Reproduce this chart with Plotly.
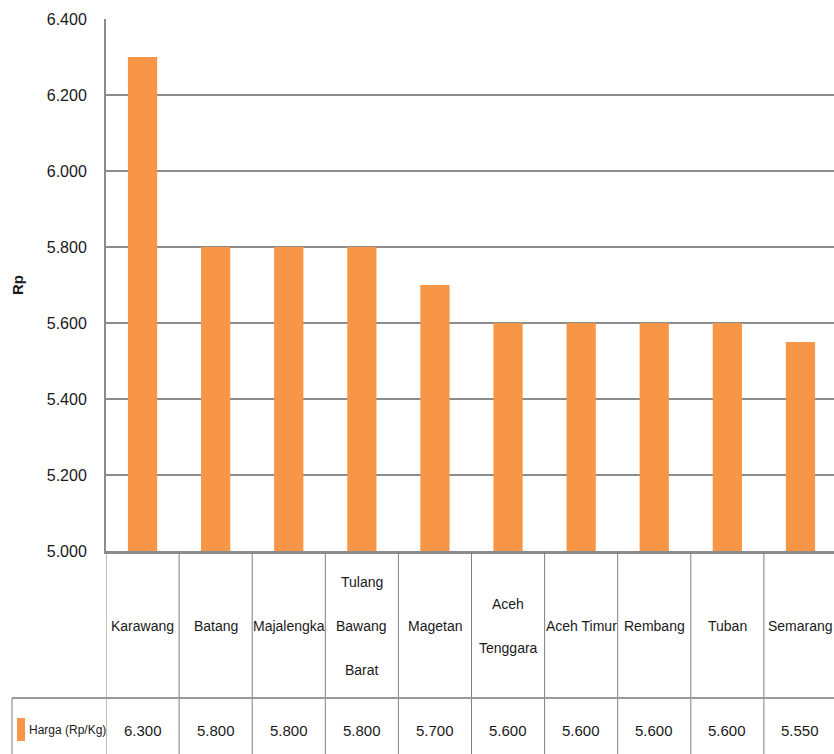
import plotly.graph_objects as go

# Harga per kabupaten (Rp/Kg)
series_name = "Harga (Rp/Kg)"
regions = ["Karawang", "Batang", "Majalengka", "Tulang\nBawang\nBarat", "Magetan",
           "Aceh\nTenggara", "Aceh Timur", "Rembang", "Tuban", "Semarang"]
prices = [6300, 5800, 5800, 5800, 5700, 5600, 5600, 5600, 5600, 5550]
y_ticks = [5000, 5200, 5400, 5600, 5800, 6000, 6200, 6400]
y_title = "Rp"

BAR = "#F79646"
GRID = "#8c8c8c"
TXT = "#1a1a1a"
FONT = "Liberation Sans, Arial, sans-serif"

W, H = 834, 754
M_L, M_T, M_B = 106, 19, 203
PLOT_H = H - M_T - M_B


def py(px):
    """pixel row -> paper y"""
    return (H - M_B - px) / PLOT_H


def px_x(px):
    """pixel column -> paper x"""
    return (px - M_L) / (W - M_L)


def fmt(v):
    return f"{v:,}".replace(",", ".")


idx = list(range(len(regions)))

fig = go.Figure(go.Bar(x=idx, y=prices, marker=dict(color=BAR, line=dict(width=0)),
                       name=series_name, showlegend=False))

shapes = []
annotations = []

row_top = H - M_B
row_mid = 698
row_bot = H

# vertical table lines on category boundaries
for i in range(len(regions) + 1):
    shapes.append(dict(type="line", xref="x", yref="paper", x0=i - 0.5, x1=i - 0.5,
                       y0=py(row_top), y1=py(row_bot + 5),
                       line=dict(color="#808080", width=1)))
# horizontal separator between label row and value row
shapes.append(dict(type="line", xref="paper", yref="paper", x0=px_x(12), x1=1.01,
                   y0=py(row_mid), y1=py(row_mid), line=dict(color="#9a9a9a", width=2)))
# left border of the value row
shapes.append(dict(type="line", xref="paper", yref="paper", x0=px_x(12), x1=px_x(12),
                   y0=py(row_mid), y1=py(row_bot + 5), line=dict(color="#808080", width=1)))
# legend key
shapes.append(dict(type="rect", xref="paper", yref="paper", x0=px_x(17), x1=px_x(25),
                   y0=py(741), y1=py(718), fillcolor=BAR, line=dict(width=0)))

label_center = 626
line_step = 44
for i, name in enumerate(regions):
    parts = name.split("\n")
    n = len(parts)
    for k, part in enumerate(parts):
        yc = label_center + (k - (n - 1) / 2) * line_step
        annotations.append(dict(x=i, xref="x", y=py(yc), yref="paper", text=part,
                                showarrow=False, xanchor="center", yanchor="middle",
                                font=dict(family=FONT, size=14, color=TXT)))
    annotations.append(dict(x=i, xref="x", y=py(730), yref="paper", text=fmt(prices[i]),
                            showarrow=False, xanchor="center", yanchor="middle",
                            font=dict(family=FONT, size=15, color=TXT)))

annotations.append(dict(x=px_x(27), xref="paper", y=py(730), yref="paper", text=series_name,
                        showarrow=False, xanchor="left", yanchor="middle",
                        font=dict(family=FONT, size=12, color=TXT)))
annotations.append(dict(x=px_x(17), xref="paper", y=0.5, yref="paper", text=f"<b>{y_title}</b>",
                        textangle=-90, showarrow=False, xanchor="center", yanchor="middle",
                        font=dict(family=FONT, size=15, color=TXT)))

fig.update_layout(
    width=W, height=H,
    margin=dict(l=M_L, r=0, t=M_T, b=M_B, pad=0),
    paper_bgcolor="white", plot_bgcolor="white",
    separators=",.",
    bargap=0.6,
    shapes=shapes,
    annotations=annotations,
    xaxis=dict(range=[-0.5, 9.5 - 3 / 73], showticklabels=False, ticks="",
               showgrid=False, zeroline=False, showline=True, linecolor="#8c8c8c",
               linewidth=3, fixedrange=True),
    yaxis=dict(range=[5000, 6400], tickvals=y_ticks, tickformat=",d",
               showgrid=True, gridcolor=GRID, gridwidth=2, zeroline=False,
               showline=True, linecolor="#8c8c8c", linewidth=2, ticks="",
               ticklabelstandoff=14,
               tickfont=dict(family=FONT, size=16, color=TXT), fixedrange=True),
)

fig.write_html("out.html")
